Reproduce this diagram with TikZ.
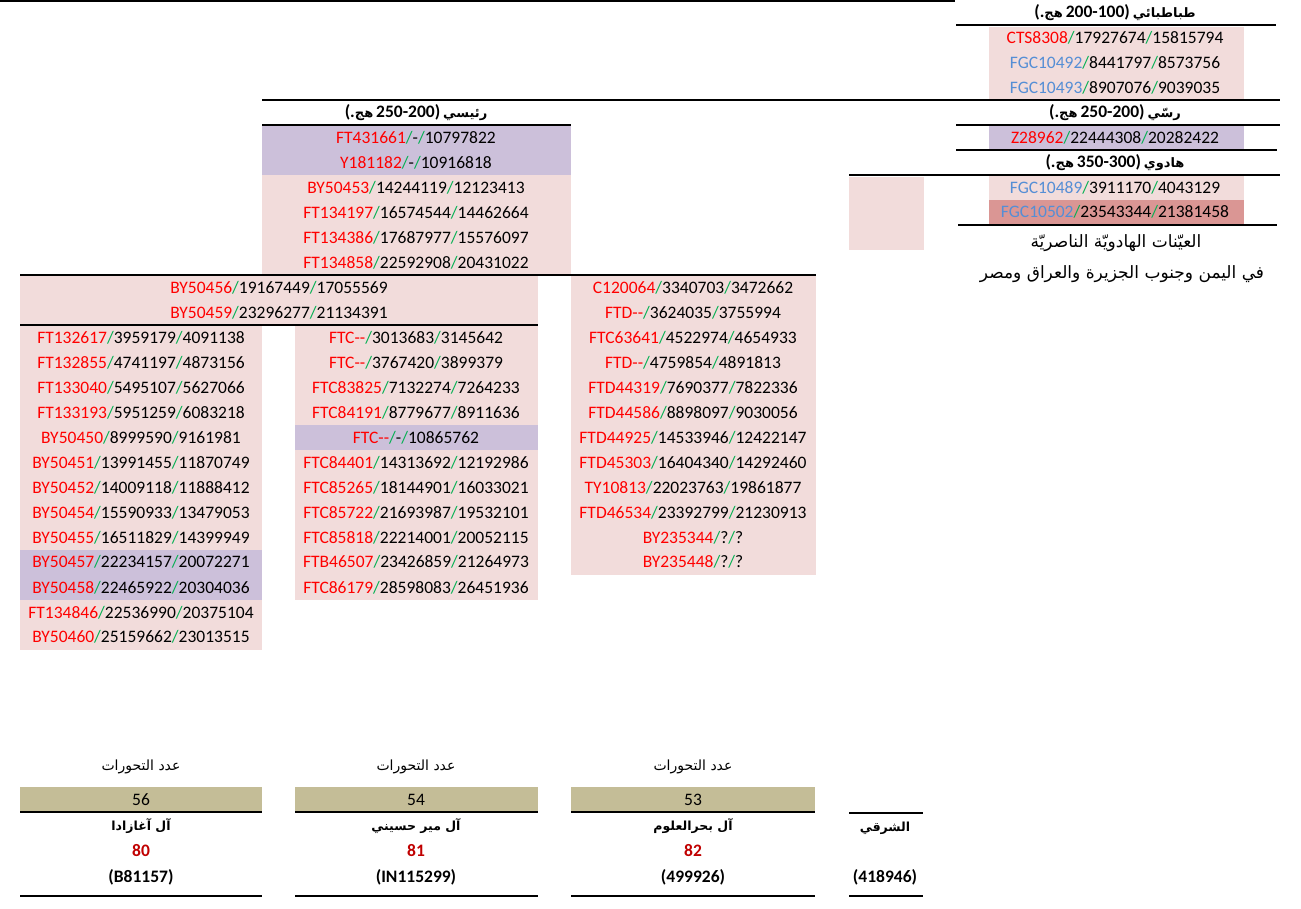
\documentclass[tikz,border=0pt]{standalone}
\usepackage{fontspec}
\setmainfont{Carlito}
\newfontfamily\arabicfont[Script=Arabic]{DejaVu Sans}
\TeXXeTstate=1

\definecolor{pinkbg}{HTML}{F2DCDB}
\definecolor{lilacbg}{HTML}{CCC0DA}
\definecolor{rosebg}{HTML}{DA9694}
\definecolor{tanbg}{HTML}{C4BD97}
\definecolor{snpred}{HTML}{FF0000}
\definecolor{snpblue}{HTML}{558ED5}
\definecolor{slashgreen}{HTML}{00B050}
\definecolor{numred}{HTML}{C00000}

% snp / position / position
\newcommand\snp[4]{\textcolor{#1}{#2}\textcolor{slashgreen}{/}#3\textcolor{slashgreen}{/}#4}
\newcommand\artxt[1]{{\arabicfont\beginR #1\endR}}
% header: name + years, laid out as read on the page
\newcommand\era[2]{{\fontsize{17.5}{20}\selectfont(.}{\arabicfont هج}
  {\fontsize{17.5}{20}\selectfont #2)} {\arabicfont #1}}

\tikzset{
  row/.style={font=\fontsize{17.5}{20}\selectfont, inner sep=0pt},
  head/.style={font=\fontsize{13}{16}\selectfont\bfseries, inner sep=0pt},
  note/.style={font=\fontsize{17}{20}\selectfont, inner sep=0pt},
  clan/.style={font=\fontsize{12.5}{16}\selectfont\bfseries, inner sep=0pt},
  count/.style={font=\fontsize{14}{16}\selectfont, inner sep=0pt},
  bold/.style={font=\fontsize{17.5}{20}\selectfont\bfseries, inner sep=0pt},
  rule/.style={line width=2.6pt},
  thinrule/.style={line width=1.2pt},
}

\begin{document}
\begin{tikzpicture}[x=1pt,y=-1pt]
  \useasboundingbox (0,0) rectangle (1301,909);
  % fonds
  \fill[pinkbg] (989,27) rectangle (1244,100);
  \fill[lilacbg] (989,126) rectangle (1244,150);
  \fill[pinkbg] (989,176) rectangle (1244,200);
  \fill[rosebg] (989,200) rectangle (1244,224);
  \fill[pinkbg] (849,177) rectangle (924,250);
  \fill[lilacbg] (262,126) rectangle (571,175);
  \fill[pinkbg] (262,175) rectangle (571,275);
  \fill[pinkbg] (20,276) rectangle (538,325);
  \fill[pinkbg] (571,276) rectangle (816,575);
  \fill[pinkbg] (20,326) rectangle (262,650);
  \fill[lilacbg] (20,550) rectangle (262,600);
  \fill[pinkbg] (295,326) rectangle (538,600);
  \fill[lilacbg] (295,425) rectangle (538,450);
  \fill[tanbg] (20,787) rectangle (262,812);
  \fill[tanbg] (295,787) rectangle (538,812);
  \fill[tanbg] (571,787) rectangle (815,812);

  % traits
  \draw[line width=1.8pt] (0,1) -- (955,1);
  \draw[rule] (956,25) -- (1276,25);
  \draw[rule] (262,100) -- (1280,100);
  \draw[rule] (262,125) -- (571,125);
  \draw[rule] (956,125) -- (1280,125);
  \draw[rule] (956,150) -- (1277,150);
  \draw[rule] (849,175) -- (1280,175);
  \draw[rule] (958,225) -- (1277,225);
  \draw[rule] (20,275) -- (816,275);
  \draw[rule] (20,325) -- (538,325);

  % tabatabai
  \node[head] (hTab) at (1115,13) {\era{طباطبائي}{200-100}};
  \node[row] (tab1) at (1115,38) {\snp{snpred}{CTS8308}{17927674}{15815794}};
  \node[row] (tab2) at (1115,63) {\snp{snpblue}{FGC10492}{8441797}{8573756}};
  \node[row] (tab3) at (1115,88) {\snp{snpblue}{FGC10493}{8907076}{9039035}};
  % rassi
  \node[head] (hRas) at (1115,113) {\era{رسّي}{250-200}};
  \node[row] (ras1) at (1115,138) {\snp{snpred}{Z28962}{22444308}{20282422}};
  % hadawi
  \node[head] (hHad) at (1115,163) {\era{هادوي}{350-300}};
  \node[row] (had1) at (1115,188) {\snp{snpblue}{FGC10489}{3911170}{4043129}};
  \node[row] (had2) at (1115,212) {\snp{snpblue}{FGC10502}{23543344}{21381458}};
  \node[note] (nt1) at (1116,243) {\artxt{العيّنات الهادويّة الناصريّة}};
  \node[note] (nt2) at (1122,274) {\artxt{في اليمن وجنوب الجزيرة والعراق ومصر}};

  % raisi
  \node[head] (hRai) at (416,113) {\era{رئيسي}{250-200}};
  \node[row] (rai1) at (416,138) {\snp{snpred}{FT431661}{-}{10797822}};
  \node[row] (rai2) at (416,163) {\snp{snpred}{Y181182}{-}{10916818}};
  \node[row] (rai3) at (416,188) {\snp{snpred}{BY50453}{14244119}{12123413}};
  \node[row] (rai4) at (416,213) {\snp{snpred}{FT134197}{16574544}{14462664}};
  \node[row] (rai5) at (416,238) {\snp{snpred}{FT134386}{17687977}{15576097}};
  \node[row] (rai6) at (416,263) {\snp{snpred}{FT134858}{22592908}{20431022}};
  \node[row] (com1) at (279,288) {\snp{snpred}{BY50456}{19167449}{17055569}};
  \node[row] (com2) at (279,313) {\snp{snpred}{BY50459}{23296277}{21134391}};

  % aghazada
  \node[row] (agh1) at (141,338) {\snp{snpred}{FT132617}{3959179}{4091138}};
  \node[row] (agh2) at (141,363) {\snp{snpred}{FT132855}{4741197}{4873156}};
  \node[row] (agh3) at (141,388) {\snp{snpred}{FT133040}{5495107}{5627066}};
  \node[row] (agh4) at (141,413) {\snp{snpred}{FT133193}{5951259}{6083218}};
  \node[row] (agh5) at (141,438) {\snp{snpred}{BY50450}{8999590}{9161981}};
  \node[row] (agh6) at (141,463) {\snp{snpred}{BY50451}{13991455}{11870749}};
  \node[row] (agh7) at (141,488) {\snp{snpred}{BY50452}{14009118}{11888412}};
  \node[row] (agh8) at (141,513) {\snp{snpred}{BY50454}{15590933}{13479053}};
  \node[row] (agh9) at (141,538) {\snp{snpred}{BY50455}{16511829}{14399949}};
  \node[row] (agh10) at (141,562) {\snp{snpred}{BY50457}{22234157}{20072271}};
  \node[row] (agh11) at (141,588) {\snp{snpred}{BY50458}{22465922}{20304036}};
  \node[row] (agh12) at (141,613) {\snp{snpred}{FT134846}{22536990}{20375104}};
  \node[row] (agh13) at (141,637) {\snp{snpred}{BY50460}{25159662}{23013515}};

  % mir husaini
  \node[row] (mir1) at (416,338) {\snp{snpred}{FTC-{}-}{3013683}{3145642}};
  \node[row] (mir2) at (416,363) {\snp{snpred}{FTC-{}-}{3767420}{3899379}};
  \node[row] (mir3) at (416,388) {\snp{snpred}{FTC83825}{7132274}{7264233}};
  \node[row] (mir4) at (416,413) {\snp{snpred}{FTC84191}{8779677}{8911636}};
  \node[row] (mir5) at (416,438) {\snp{snpred}{FTC-{}-}{-}{10865762}};
  \node[row] (mir6) at (416,463) {\snp{snpred}{FTC84401}{14313692}{12192986}};
  \node[row] (mir7) at (416,488) {\snp{snpred}{FTC85265}{18144901}{16033021}};
  \node[row] (mir8) at (416,513) {\snp{snpred}{FTC85722}{21693987}{19532101}};
  \node[row] (mir9) at (416,538) {\snp{snpred}{FTC85818}{22214001}{20052115}};
  \node[row] (mir10) at (416,562) {\snp{snpred}{FTB46507}{23426859}{21264973}};
  \node[row] (mir11) at (416,588) {\snp{snpred}{FTC86179}{28598083}{26451936}};

  % bahr al-ulum
  \node[row] (bah1) at (693,288) {\snp{snpred}{C120064}{3340703}{3472662}};
  \node[row] (bah2) at (693,313) {\snp{snpred}{FTD-{}-}{3624035}{3755994}};
  \node[row] (bah3) at (693,338) {\snp{snpred}{FTC63641}{4522974}{4654933}};
  \node[row] (bah4) at (693,363) {\snp{snpred}{FTD-{}-}{4759854}{4891813}};
  \node[row] (bah5) at (693,388) {\snp{snpred}{FTD44319}{7690377}{7822336}};
  \node[row] (bah6) at (693,413) {\snp{snpred}{FTD44586}{8898097}{9030056}};
  \node[row] (bah7) at (693,438) {\snp{snpred}{FTD44925}{14533946}{12422147}};
  \node[row] (bah8) at (693,463) {\snp{snpred}{FTD45303}{16404340}{14292460}};
  \node[row] (bah9) at (693,488) {\snp{snpred}{TY10813}{22023763}{19861877}};
  \node[row] (bah10) at (693,513) {\snp{snpred}{FTD46534}{23392799}{21230913}};
  \node[row] (bah11) at (693,538) {\snp{snpred}{BY235344}{?}{?}};
  \node[row] (bah12) at (693,562) {\snp{snpred}{BY235448}{?}{?}};

  % bas du tableau
  \node[count] (cnt1) at (141,767) {\artxt{عدد التحورات}};
  \node[count] (cnt2) at (416,767) {\artxt{عدد التحورات}};
  \node[count] (cnt3) at (693,767) {\artxt{عدد التحورات}};
  \node[row] (sum1) at (141,800) {56};
  \node[row] (sum2) at (416,800) {54};
  \node[row] (sum3) at (693,800) {53};
  \draw[thinrule] (20,812) -- (262,812) (295,812) -- (538,812)
     (571,812) -- (815,812) (849,813) -- (923,813);
  \node[clan] (fam1) at (141,826) {\artxt{آل آغازادا}};
  \node[clan] (fam2) at (416,826) {\artxt{آل مير حسيني}};
  \node[clan] (fam3) at (693,826) {\artxt{آل بحرالعلوم}};
  \node[clan] (fam4) at (885,828) {\artxt{الشرقي}};
  \node[bold,numred] (kit1) at (141,851) {80};
  \node[bold,numred] (kit2) at (416,851) {81};
  \node[bold,numred] (kit3) at (693,851) {82};
  \node[bold] (id1) at (141,877) {(B81157)};
  \node[bold] (id2) at (416,877) {(IN115299)};
  \node[bold] (id3) at (693,877) {(499926)};
  \node[bold] (id4) at (885,877) {(418946)};
  \draw[thinrule] (20,896) -- (262,896) (295,896) -- (538,896)
     (571,896) -- (815,896) (849,896) -- (923,896);
\end{tikzpicture}
\end{document}
